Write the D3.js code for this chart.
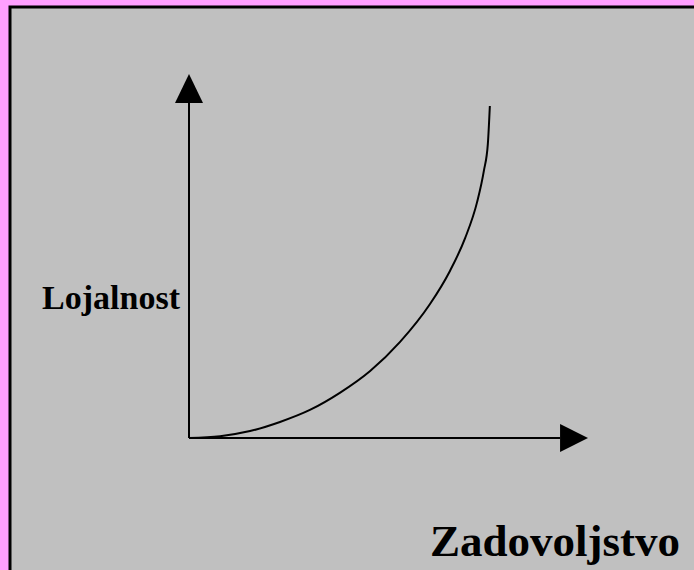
<!DOCTYPE html>
<html>
<head>
<meta charset="utf-8">
<script src="https://cdn.jsdelivr.net/npm/d3@7"></script>
<style>
  html, body { margin: 0; padding: 0; background: #ff9fff; }
  svg { display: block; }
</style>
</head>
<body>
<svg id="chart"></svg>
<script>
// satisfaction (x) vs loyalty (y) (0-100 units)
const satisfaction = [0, 7.8, 15.3, 22.8, 30.3, 37.8, 45.4, 52.9, 60.4, 65.4, 69.2, 72.2, 73.9, 74.9, 75.4];
const loyalty = [0, 0.5, 1.9, 4.4, 7.7, 12.4, 18.4, 26.4, 36.8, 45.9, 54.9, 64.8, 73.4, 80.8, 91.2];
const xLabel = "Zadovoljstvo";
const yLabel = "Lojalnost";

const width = 694, height = 570;
const svg = d3.select("#chart").attr("width", width).attr("height", height);

// gray panel with dark border
svg.append("rect")
  .attr("x", 10).attr("y", 7)
  .attr("width", width).attr("height", height)
  .attr("fill", "#c0c0c0")
  .attr("stroke", "#000").attr("stroke-width", 3);

const x = d3.scaleLinear().domain([0, 100]).range([189, 588]);
const y = d3.scaleLinear().domain([0, 100]).range([438, 74]);

// arrow axes
const g = svg.append("g");
g.append("line")
  .attr("x1", x(0)).attr("y1", y(0))
  .attr("x2", x(0)).attr("y2", y(92))
  .attr("stroke", "#000").attr("stroke-width", 2);
g.append("path")
  .attr("d", `M${x(0)},${y(100)}L${x(0) - 14},${y(92)}L${x(0) + 14},${y(92)}Z`)
  .attr("fill", "#000");

g.append("line")
  .attr("x1", x(0)).attr("y1", y(0))
  .attr("x2", x(93)).attr("y2", y(0))
  .attr("stroke", "#000").attr("stroke-width", 2);
g.append("path")
  .attr("d", `M${x(100)},${y(0)}L${x(93)},${y(0) - 14}L${x(93)},${y(0) + 14}Z`)
  .attr("fill", "#000");

// curve
const pts = satisfaction.map((v, i) => [v, loyalty[i]]);
const line = d3.line().x(d => x(d[0])).y(d => y(d[1])).curve(d3.curveMonotoneX);
g.append("path")
  .datum(pts)
  .attr("d", line)
  .attr("fill", "none")
  .attr("stroke", "#000")
  .attr("stroke-width", 2);

// labels
svg.append("text")
  .attr("x", 180).attr("y", 309)
  .attr("text-anchor", "end")
  .attr("font-family", "'Liberation Serif', 'Times New Roman', serif")
  .attr("font-weight", "bold")
  .attr("font-size", 34)
  .text(yLabel);

svg.append("text")
  .attr("x", 430).attr("y", 556)
  .attr("font-family", "'Liberation Serif', 'Times New Roman', serif")
  .attr("font-weight", "bold")
  .attr("font-size", 45)
  .text(xLabel);
</script>
</body>
</html>
